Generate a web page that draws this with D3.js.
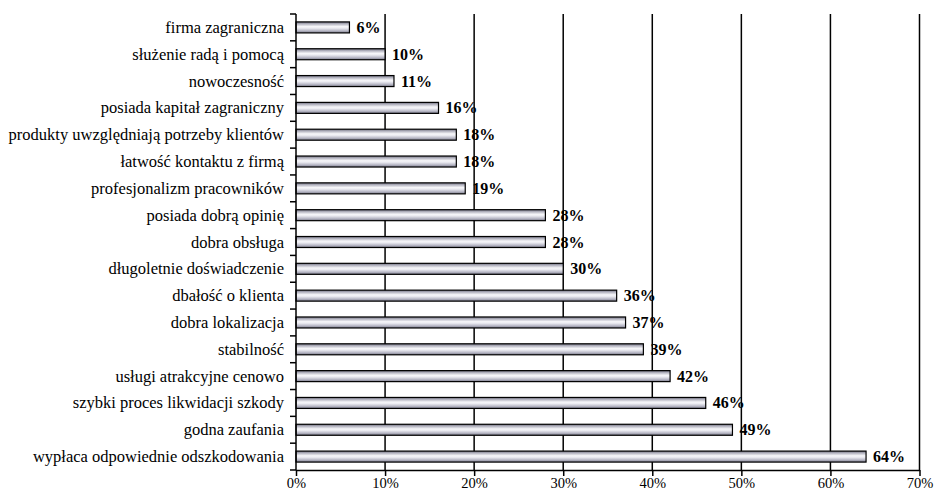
<!DOCTYPE html>
<html>
<head>
<meta charset="utf-8">
<script src="https://cdn.jsdelivr.net/npm/d3@7"></script>
<style>
  html, body { margin: 0; padding: 0; background: #fff; }
  svg { display: block; }
  svg text { font-family: "Liberation Serif", "Times New Roman", Times, "DejaVu Serif", serif !important; }
</style>
</head>
<body>
<svg id="chart" width="935" height="492"></svg>
<script>
// Reasons for choosing the insurer (share of answers)
const categories = [
  "firma zagraniczna",
  "służenie radą i pomocą",
  "nowoczesność",
  "posiada kapitał zagraniczny",
  "produkty uwzględniają potrzeby klientów",
  "łatwość kontaktu z firmą",
  "profesjonalizm pracowników",
  "posiada dobrą opinię",
  "dobra obsługa",
  "długoletnie doświadczenie",
  "dbałość o klienta",
  "dobra lokalizacja",
  "stabilność",
  "usługi atrakcyjne cenowo",
  "szybki proces likwidacji szkody",
  "godna zaufania",
  "wypłaca odpowiednie odszkodowania"
];
const values = [6, 10, 11, 16, 18, 18, 19, 28, 28, 30, 36, 37, 39, 42, 46, 49, 64];
const tickValues = [0, 10, 20, 30, 40, 50, 60, 70];

const svg = d3.select("#chart");
const margin = { top: 14, right: 16, bottom: 22, left: 296 };
const width = 935, height = 492;
const serif = "'Liberation Serif', 'Times New Roman', Times, serif";

const x = d3.scaleLinear().domain([0, 70]).range([margin.left, 919.5]);
const band = d3.scaleBand().domain(categories).range([margin.top, height - margin.bottom]);

// Metallic bar fill
const defs = svg.append("defs");
const grad = defs.append("linearGradient").attr("id", "barFill")
  .attr("x1", 0).attr("y1", 0).attr("x2", 0).attr("y2", 1);
[
  [0, "#707080"], [0.2, "#b8b8c4"], [0.42, "#f6f6f9"], [0.56, "#ececf2"],
  [0.8, "#b8b8c6"], [1, "#7a7a8a"]
].forEach(([o, c]) => grad.append("stop").attr("offset", o).attr("stop-color", c));

// Vertical grid lines
svg.append("g").selectAll("line").data(tickValues.filter(d => d > 0)).join("line")
  .attr("x1", d => x(d)).attr("x2", d => x(d))
  .attr("y1", margin.top).attr("y2", height - margin.bottom)
  .attr("stroke", "#000").attr("stroke-width", 1.5);

// Bars
svg.append("g").selectAll("rect").data(values).join("rect")
  .attr("x", x(0))
  .attr("y", (d, i) => band(categories[i]) + band.bandwidth() / 2 - 5.5)
  .attr("width", d => x(d) - x(0))
  .attr("height", 11)
  .attr("fill", "url(#barFill)")
  .attr("stroke", "#000").attr("stroke-width", 1.2);

// Value labels
svg.append("g").selectAll("text").data(values).join("text")
  .attr("x", d => x(d) + 7)
  .attr("y", (d, i) => band(categories[i]) + band.bandwidth() / 2 + 5.5)
  .attr("font-family", serif)
  .attr("font-size", 16).attr("font-weight", "bold").attr("fill", "#000")
  .text(d => d + "%");

// Y axis with ticks at band boundaries
const yAxis = svg.append("g");
yAxis.append("line")
  .attr("x1", x(0)).attr("x2", x(0))
  .attr("y1", margin.top).attr("y2", height - margin.bottom)
  .attr("stroke", "#000").attr("stroke-width", 1.5);
const bounds = categories.map(c => band(c)).concat([height - margin.bottom]);
yAxis.selectAll("line.t").data(bounds).join("line").attr("class", "t")
  .attr("x1", x(0) - 6).attr("x2", x(0))
  .attr("y1", d => d).attr("y2", d => d)
  .attr("stroke", "#000").attr("stroke-width", 1.5);
yAxis.selectAll("text").data(categories).join("text")
  .attr("x", x(0) - 12)
  .attr("y", d => band(d) + band.bandwidth() / 2 + 5.5)
  .attr("text-anchor", "end")
  .attr("font-family", serif)
  .attr("font-size", 16.5).attr("fill", "#000")
  .text(d => d);

// X axis
const xAxis = d3.axisBottom(x).tickValues(tickValues)
  .tickFormat(d => d + "%").tickSize(6).tickSizeOuter(0).tickPadding(4);
const gx = svg.append("g")
  .attr("transform", `translate(0,${height - margin.bottom})`)
  .call(xAxis);
gx.attr("font-family", serif);
gx.select(".domain").attr("stroke", "#000").attr("stroke-width", 1.5);
gx.selectAll(".tick line").attr("stroke", "#000").attr("stroke-width", 1.5);
gx.selectAll(".tick text")
  .attr("font-family", serif)
  .attr("font-size", 14.5).attr("fill", "#000").attr("dy", "0.55em");
</script>
</body>
</html>
